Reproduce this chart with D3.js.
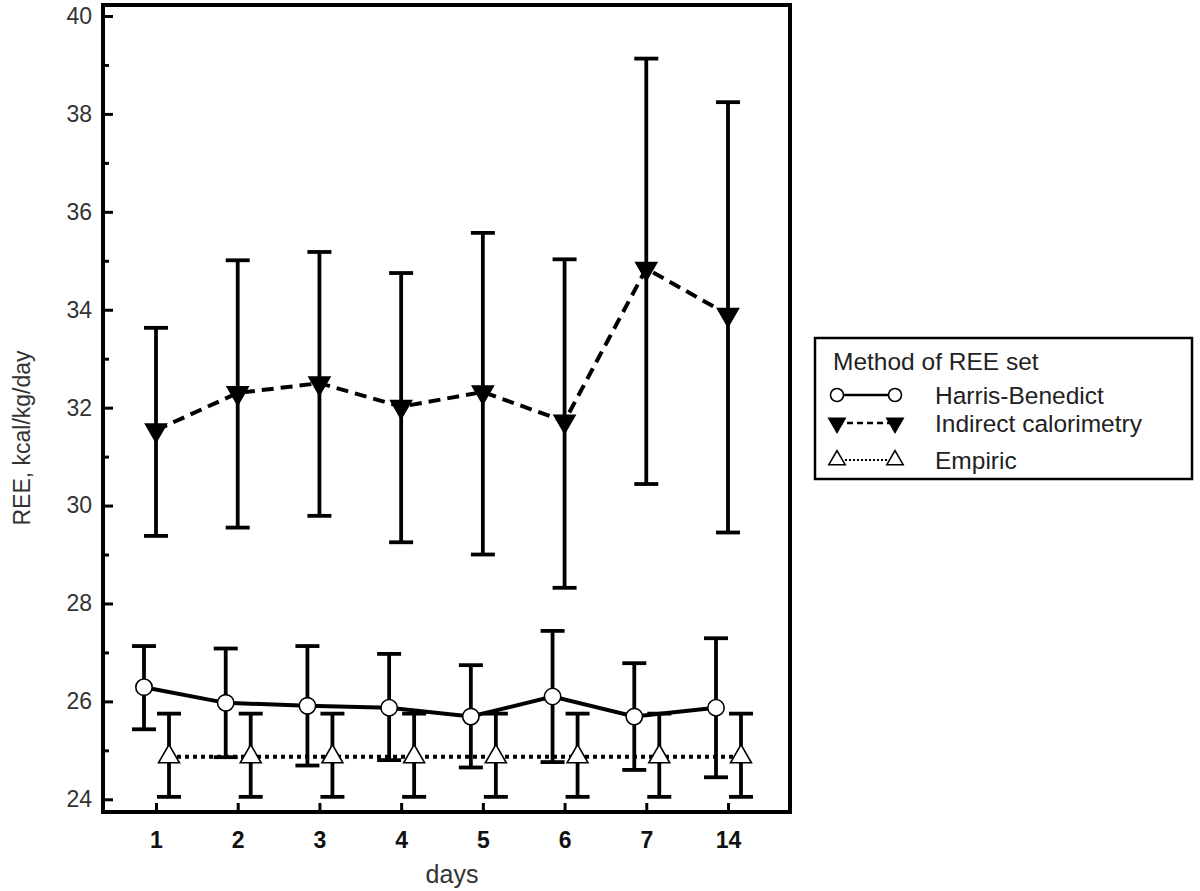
<!DOCTYPE html>
<html>
<head>
<meta charset="utf-8">
<script src="https://cdn.jsdelivr.net/npm/d3@7/dist/d3.min.js"></script>
<style>
  html, body { margin: 0; padding: 0; background: #fff; }
  svg { display: block; font-family: 'Liberation Sans', Arial, sans-serif; }
</style>
</head>
<body>
<div id="chart"></div>
<script>
/* ---- Data ---- */
const days = ['1', '2', '3', '4', '5', '6', '7', '14'];

const hbMean  = [26.29, 25.97, 25.91, 25.87, 25.69, 26.10, 25.69, 25.87];
const hbUpper = [27.13, 27.08, 27.13, 26.97, 26.74, 27.44, 26.78, 27.29];
const hbLower = [25.43, 24.86, 24.69, 24.80, 24.65, 24.76, 24.60, 24.45];

const icMean  = [31.54, 32.30, 32.50, 32.02, 32.32, 31.72, 34.84, 33.90];
const icUpper = [33.63, 35.01, 35.18, 34.75, 35.57, 35.03, 39.13, 38.24];
const icLower = [29.38, 29.55, 29.79, 29.25, 29.00, 28.32, 30.44, 29.45];

const empMean  = [24.87, 24.87, 24.87, 24.87, 24.87, 24.87, 24.87, 24.87];
const empUpper = [25.75, 25.75, 25.75, 25.75, 25.75, 25.75, 25.75, 25.75];
const empLower = [24.05, 24.05, 24.05, 24.05, 24.05, 24.05, 24.05, 24.05];

const yMajorTicks = [24, 26, 28, 30, 32, 34, 36, 38, 40];
const yMinorTicks = [25, 27, 29, 31, 33, 35, 37, 39];

const legendTitle = 'Method of REE set';
const seriesNames = ['Harris-Benedict', 'Indirect calorimetry', 'Empiric'];

(function () {
  'use strict';

  const W = 1200, H = 891;
  const frame = { left: 103, right: 790, top: 5, bottom: 812 };

  const svg = d3.select('#chart').append('svg')
    .attr('width', W).attr('height', H);

  const x = d3.scalePoint().domain(days).range([156, 728]);
  const y = d3.scaleLinear().domain([24, 40]).range([799.3, 16]);

  /* series definitions: dodge offset + marker style */
  const series = [
    { name: seriesNames[0], mean: hbMean, up: hbUpper, lo: hbLower, dx: -12,
      dash: null, legendDash: null, marker: 'circle', fill: '#fff' },
    { name: seriesNames[1], mean: icMean, up: icUpper, lo: icLower, dx: 0,
      dash: '12,7', legendDash: '6,4', marker: 'down', fill: '#000' },
    { name: seriesNames[2], mean: empMean, up: empUpper, lo: empLower, dx: 13,
      dash: '4,4', legendDash: '2,2', marker: 'up', fill: '#fff' }
  ];

  function drawMarker(sel, s, size) {
    if (s.marker === 'circle') {
      sel.append('circle').attr('r', size === 'small' ? 6.5 : 8.2)
        .attr('fill', s.fill).attr('stroke', '#000').attr('stroke-width', 1.6);
    } else {
      const sz = size === 'small' ? 115 : 190;
      sel.append('path')
        .attr('d', d3.symbol().type(d3.symbolTriangle).size(sz)())
        .attr('transform', s.marker === 'down' ? 'rotate(180)' : null)
        .attr('fill', s.fill).attr('stroke', '#000').attr('stroke-width', 1.6);
    }
  }

  const plot = svg.append('g');

  /* ---- Error bars ---- */
  series.forEach(s => {
    const g = plot.append('g').attr('stroke', '#000').attr('stroke-width', 3.8);
    days.forEach((d, i) => {
      const cx = x(d) + s.dx;
      g.append('line').attr('x1', cx).attr('x2', cx)
        .attr('y1', y(s.up[i])).attr('y2', y(s.lo[i]));
      g.append('line').attr('x1', cx - 12).attr('x2', cx + 12)
        .attr('y1', y(s.up[i])).attr('y2', y(s.up[i]));
      g.append('line').attr('x1', cx - 12).attr('x2', cx + 12)
        .attr('y1', y(s.lo[i])).attr('y2', y(s.lo[i]));
    });
  });

  /* ---- Connecting lines ---- */
  series.forEach(s => {
    const line = d3.line()
      .x((v, i) => x(days[i]) + s.dx)
      .y(v => y(v));
    plot.append('path')
      .attr('d', line(s.mean))
      .attr('fill', 'none')
      .attr('stroke', '#000')
      .attr('stroke-width', 4)
      .attr('stroke-dasharray', s.dash);
  });

  /* ---- Markers ---- */
  series.forEach(s => {
    days.forEach((d, i) => {
      const m = plot.append('g')
        .attr('transform', `translate(${x(d) + s.dx},${y(s.mean[i])})`);
      drawMarker(m, s, 'big');
    });
  });

  /* ---- Frame ---- */
  svg.append('rect')
    .attr('x', frame.left).attr('y', frame.top)
    .attr('width', frame.right - frame.left)
    .attr('height', frame.bottom - frame.top)
    .attr('fill', 'none').attr('stroke', '#000').attr('stroke-width', 4);

  /* ---- Y axis (ticks inside) ---- */
  const yAxis = svg.append('g')
    .attr('transform', `translate(${frame.left},0)`)
    .call(d3.axisLeft(y).tickValues(yMajorTicks).tickSize(-10).tickPadding(11));
  const yMinor = svg.append('g')
    .attr('transform', `translate(${frame.left},0)`)
    .call(d3.axisLeft(y).tickValues(yMinorTicks).tickSize(-6).tickFormat(''));
  [yAxis, yMinor].forEach(a => {
    a.select('.domain').remove();
    a.selectAll('.tick line').attr('stroke', '#000').attr('stroke-width', 3);
  });
  yAxis.selectAll('.tick text')
    .attr('font-size', 23).attr('fill', '#333')
    .attr('font-family', "'Liberation Sans', Arial, sans-serif");

  /* ---- X axis (ticks inside) ---- */
  const xAxis = svg.append('g')
    .attr('transform', `translate(0,${frame.bottom})`)
    .call(d3.axisBottom(x).tickSize(-9).tickPadding(20));
  xAxis.select('.domain').remove();
  xAxis.selectAll('.tick line').attr('stroke', '#000').attr('stroke-width', 3);
  xAxis.selectAll('.tick text')
    .attr('font-size', 23).attr('font-weight', 'bold').attr('fill', '#111')
    .attr('font-family', "'Liberation Sans', Arial, sans-serif");

  /* ---- Axis titles ---- */
  svg.append('text')
    .attr('x', 452).attr('y', 883)
    .attr('text-anchor', 'middle')
    .attr('font-size', 25).attr('fill', '#333')
    .text('days');

  svg.append('text')
    .attr('transform', 'translate(30,438) rotate(-90)')
    .attr('text-anchor', 'middle')
    .attr('font-size', 23).attr('fill', '#333')
    .text('REE, kcal/kg/day');

  /* ---- Legend ---- */
  const lg = svg.append('g').attr('transform', 'translate(815,338)');
  lg.append('rect')
    .attr('width', 377).attr('height', 141)
    .attr('fill', '#fff').attr('stroke', '#000').attr('stroke-width', 2.5);
  lg.append('text')
    .attr('x', 18).attr('y', 32)
    .attr('font-size', 24.5).attr('fill', '#222')
    .text(legendTitle);

  const rowY = [57, 85, 122];
  series.forEach((s, i) => {
    const row = lg.append('g').attr('transform', `translate(0,${rowY[i]})`);
    row.append('line')
      .attr('x1', 22).attr('x2', 80)
      .attr('stroke', '#000').attr('stroke-width', s.legendDash === '2,2' ? 1.8 : 2.4)
      .attr('stroke-dasharray', s.legendDash);
    [22, 80].forEach(px => {
      const m = row.append('g').attr('transform', `translate(${px},0)`);
      drawMarker(m, s, 'small');
    });
    row.append('text')
      .attr('x', 120).attr('y', 9)
      .attr('font-size', 24.5).attr('fill', '#222')
      .text(s.name);
  });
})();
</script>
</body>
</html>
